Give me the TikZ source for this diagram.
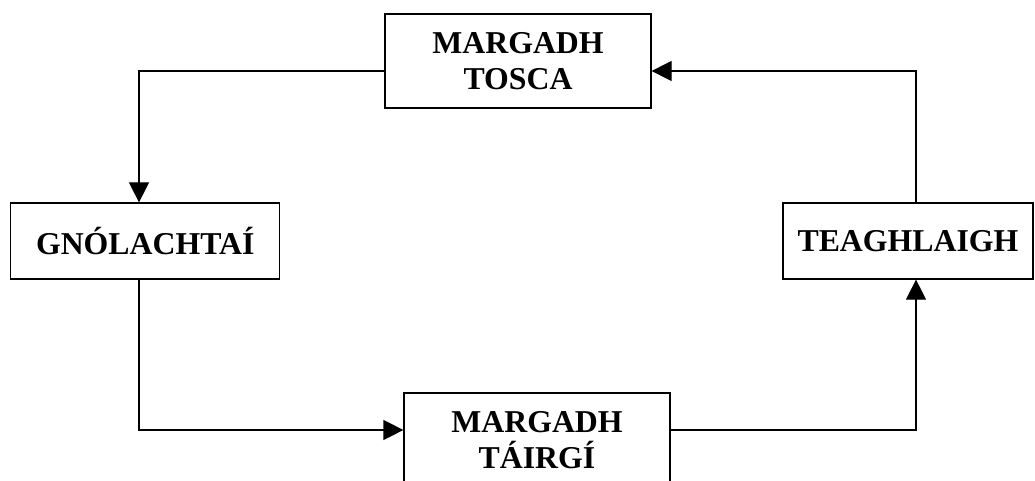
\documentclass[tikz,border=0pt]{standalone}
\usepackage{fontspec}
\setmainfont{Liberation Serif}
\usetikzlibrary{arrows.meta}
\tikzset{
  box/.style={draw=black, line width=1.2pt, fill=white, inner sep=0pt, align=center,
    font=\fontsize{31.8}{36}\selectfont\bfseries},
  arr/.style={draw=black, line width=1.2pt, -{Triangle[length=20pt,width=20pt]}},
  link/.style={draw=black, line width=1.2pt}
}
\begin{document}
\begin{tikzpicture}[x=1pt,y=-1pt]
\useasboundingbox (0,0) rectangle (1035,481);
\node[box, minimum width=266pt, minimum height=94pt] (top) at (518,61) {MARGADH\\TOSCA};
\node[box, minimum width=269pt, minimum height=76pt] (gno) at (145.3,241) {GNÓLACHTAÍ};
\node[box, minimum width=250pt, minimum height=76pt] (tea) at (908,241) {TEAGHLAIGH};
\begin{scope}
\clip (0,0) rectangle (1035,481);
\node[box, minimum width=266pt, minimum height=94pt] (bot) at (537,440) {MARGADH\\TÁIRGÍ};
\end{scope}
\draw[arr] ([yshift=-10pt]top.west) -| ([xshift=-6.3pt]gno.north);
\draw[arr] ([xshift=-6.3pt]gno.south) |- ([yshift=10pt]bot.west);
\draw[arr] ([yshift=10pt]bot.east) -| ([xshift=8pt]tea.south);
\draw[arr] ([xshift=8pt]tea.north) |- ([yshift=-10pt]top.east);
\end{tikzpicture}
\end{document}
